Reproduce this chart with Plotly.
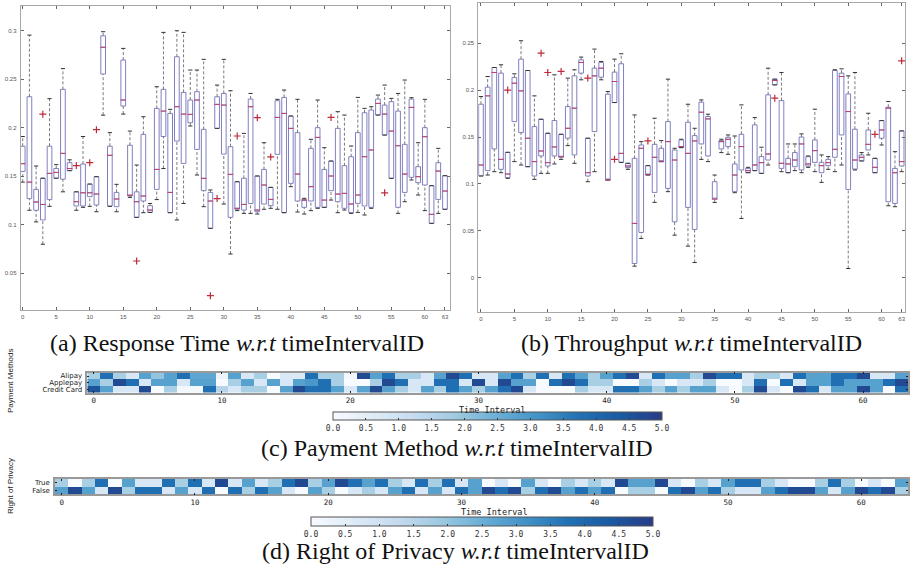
import plotly.graph_objects as go

intervals = list(range(64))
box_xticks = [0, 5, 10, 15, 20, 25, 30, 35, 40, 45, 50, 55, 60, 63]
heat_xticks = [0, 10, 20, 30, 40, 50, 60]

# ---------------- (a) Response time per interval (box statistics) ----------------
rt_lo = [0.144, 0.115, 0.103, 0.080, 0.119, 0.148, 0.134, 0.1558, 0.115, 0.118,
         0.119, 0.1135, 0.213, 0.119, 0.1135, 0.2141, 0.1283, 0.1077, 0.1125, 0.1128,
         0.126, 0.158, 0.1125, 0.105, 0.122, 0.2018, 0.1513, 0.1187, 0.0964, 0.1994,
         0.1214, 0.0699, 0.1146, 0.1118, 0.1118, 0.1111, 0.116, 0.117, 0.116, 0.1125,
         0.1393, 0.1132, 0.1111, 0.1146, 0.117, 0.118, 0.1255, 0.1125, 0.1152, 0.1118,
         0.1128, 0.1101, 0.117, 0.2131, 0.1925, 0.1479, 0.1118, 0.1238, 0.1462, 0.1307,
         0.1146, 0.1015, 0.1118, 0.116]
rt_q1 = [0.155, 0.127, 0.115, 0.105, 0.126, 0.148, 0.147, 0.1558, 0.1194, 0.1194,
         0.129, 0.1204, 0.2554, 0.1194, 0.1187, 0.2224, 0.1297, 0.1077, 0.1245, 0.1128,
         0.1365, 0.191, 0.1125, 0.1863, 0.1633, 0.2052, 0.1777, 0.1352, 0.0964, 0.1994,
         0.1729, 0.1077, 0.116, 0.1152, 0.122, 0.1135, 0.1214, 0.1197, 0.1726, 0.1125,
         0.1427, 0.1245, 0.118, 0.1245, 0.118, 0.118, 0.1352, 0.1238, 0.117, 0.1125,
         0.1221, 0.1194, 0.118, 0.2131, 0.1925, 0.1479, 0.118, 0.1334, 0.1489, 0.1434,
         0.141, 0.1015, 0.1262, 0.116]
rt_med = [0.163, 0.144, 0.1235, 0.121, 0.153, 0.154, 0.1736, 0.158, 0.1238, 0.133,
          0.133, 0.1317, 0.283, 0.1716, 0.1266, 0.2286, 0.1304, 0.1238, 0.1297, 0.1152,
          0.1571, 0.2172, 0.1334, 0.2217, 0.2141, 0.2138, 0.2286, 0.1479, 0.1245, 0.2241,
          0.2234, 0.152, 0.117, 0.121, 0.2217, 0.1152, 0.141, 0.1262, 0.2107, 0.2148,
          0.1994, 0.1523, 0.1255, 0.1393, 0.1901, 0.1255, 0.1503, 0.1317, 0.1324, 0.1214,
          0.1307, 0.1702, 0.1771, 0.2251, 0.2141, 0.1966, 0.1815, 0.1523, 0.221, 0.1496,
          0.1908, 0.1108, 0.1554, 0.1348]
rt_q3 = [0.181, 0.232, 0.1365, 0.148, 0.181, 0.158, 0.2396, 0.164, 0.134, 0.1626,
         0.142, 0.1496, 0.2948, 0.181, 0.1334, 0.2698, 0.182, 0.134, 0.1932, 0.1197,
         0.22, 0.2396, 0.2148, 0.2732, 0.2365, 0.2286, 0.2372, 0.1984, 0.1334, 0.232,
         0.2354, 0.1805, 0.1444, 0.148, 0.2296, 0.1503, 0.1571, 0.1386, 0.2279, 0.2313,
         0.2121, 0.195, 0.126, 0.1788, 0.2001, 0.1571, 0.1657, 0.1994, 0.1609, 0.1702,
         0.195, 0.2155, 0.2183, 0.2296, 0.2234, 0.2269, 0.2172, 0.1829, 0.2296, 0.1599,
         0.2001, 0.1403, 0.164, 0.1506]
rt_hi = [0.191, 0.2955, 0.1606, 0.148, 0.230, 0.162, 0.261, 0.167, 0.134, 0.191,
         0.142, 0.1496, 0.299, 0.195, 0.1417, 0.2818, 0.1966, 0.1616, 0.2114, 0.122,
         0.2423, 0.2983, 0.219, 0.300, 0.2983, 0.2595, 0.2595, 0.2705, 0.1359, 0.244,
         0.2705, 0.2382, 0.1444, 0.1942, 0.2354, 0.1503, 0.1846, 0.1386, 0.2293, 0.2389,
         0.2121, 0.2293, 0.1273, 0.1881, 0.2286, 0.1795, 0.1657, 0.2166, 0.2131, 0.1812,
         0.2313, 0.22, 0.2217, 0.2337, 0.244, 0.2303, 0.2354, 0.2492, 0.231, 0.1846,
         0.2293, 0.1403, 0.1788, 0.1506]
rt_out_x = [3, 8, 10, 11, 17, 28, 29, 32, 35, 37, 46, 54]
rt_out_y = [0.214, 0.161, 0.164, 0.198, 0.0627, 0.027, 0.127, 0.1915, 0.2104, 0.170, 0.2107, 0.133]

# ---------------- (b) Throughput per interval (box statistics) ----------------
tp_lo = [0.1085, 0.1095, 0.1131, 0.112, 0.106, 0.1238, 0.1202, 0.1184, 0.1049, 0.1113,
         0.1113, 0.1213, 0.1262, 0.1408, 0.122, 0.2109, 0.1024, 0.1131, 0.2109, 0.1042,
         0.1867, 0.123, 0.1156, 0.0125, 0.042, 0.1095, 0.0804, 0.1238, 0.0918, 0.0455,
         0.1387, 0.0338, 0.0164, 0.1262, 0.1238, 0.0804, 0.1334, 0.1316, 0.0907, 0.0633,
         0.112, 0.1142, 0.1113, 0.1202, 0.2055, 0.1131, 0.112, 0.1142, 0.112, 0.1177,
         0.1131, 0.1017, 0.1156, 0.1131, 0.1202, 0.010, 0.1149, 0.1245, 0.1309, 0.112,
         0.1415, 0.0768, 0.0758, 0.1131]
tp_q1 = [0.1085, 0.1142, 0.1373, 0.1156, 0.1067, 0.1664, 0.1547, 0.1184, 0.1085, 0.1298,
         0.1191, 0.1298, 0.1284, 0.1487, 0.1309, 0.218, 0.1085, 0.1558, 0.2137, 0.1042,
         0.1867, 0.123, 0.1174, 0.0153, 0.0484, 0.1095, 0.091, 0.1238, 0.0953, 0.0597,
         0.1387, 0.075, 0.0516, 0.1426, 0.1298, 0.0839, 0.1373, 0.1398, 0.0918, 0.1149,
         0.112, 0.1142, 0.1113, 0.1255, 0.2055, 0.1166, 0.112, 0.1184, 0.1149, 0.1191,
         0.123, 0.112, 0.1195, 0.1284, 0.1522, 0.0942, 0.1159, 0.1245, 0.1362, 0.112,
         0.1487, 0.0811, 0.0793, 0.1191]
tp_med = [0.1202, 0.1938, 0.2187, 0.1262, 0.1106, 0.2073, 0.1991, 0.1487, 0.1238, 0.1351,
          0.1227, 0.1394, 0.1291, 0.1593, 0.1807, 0.2294, 0.112, 0.2151, 0.2233, 0.1042,
          0.2091, 0.1326, 0.1191, 0.058, 0.138, 0.1102, 0.1284, 0.1238, 0.1451, 0.1255,
          0.1398, 0.1326, 0.1458, 0.1764, 0.1693, 0.0839, 0.1451, 0.1476, 0.1095, 0.1398,
          0.1142, 0.1202, 0.1227, 0.1319, 0.2102, 0.122, 0.1213, 0.1255, 0.1426, 0.1213,
          0.1355, 0.1195, 0.1227, 0.1369, 0.2144, 0.1771, 0.1255, 0.1284, 0.1422, 0.1177,
          0.1575, 0.1807, 0.112, 0.1238]
tp_q3 = [0.1849, 0.2031, 0.224, 0.218, 0.1337, 0.2134, 0.2329, 0.2208, 0.1611, 0.1689,
         0.154, 0.1675, 0.1529, 0.1824, 0.2151, 0.2322, 0.1487, 0.2233, 0.2294, 0.1956,
         0.2191, 0.228, 0.122, 0.1273, 0.1415, 0.1195, 0.1422, 0.138, 0.1664, 0.1362,
         0.1469, 0.1657, 0.1515, 0.1871, 0.1718, 0.1024, 0.1462, 0.1497, 0.1213, 0.1529,
         0.1166, 0.1629, 0.1291, 0.1949, 0.2116, 0.1888, 0.1273, 0.1334, 0.15, 0.1291,
         0.1469, 0.123, 0.1262, 0.2208, 0.218, 0.1959, 0.1583, 0.1309, 0.1575, 0.1273,
         0.1675, 0.1817, 0.1166, 0.1565]
tp_hi = [0.1931, 0.2144, 0.224, 0.2269, 0.1337, 0.2173, 0.2525, 0.2208, 0.1938, 0.1689,
         0.154, 0.2162, 0.1529, 0.2127, 0.2216, 0.2351, 0.1487, 0.2436, 0.2304, 0.1984,
         0.2329, 0.2386, 0.122, 0.1735, 0.1451, 0.1195, 0.17, 0.1462, 0.2116, 0.138,
         0.1476, 0.1849, 0.1593, 0.1895, 0.1743, 0.1095, 0.1476, 0.1522, 0.1511, 0.1842,
         0.1177, 0.1707, 0.1391, 0.2233, 0.2116, 0.2187, 0.1426, 0.1426, 0.1533, 0.1298,
         0.1796, 0.1309, 0.1291, 0.2216, 0.2226, 0.2151, 0.2187, 0.1334, 0.1753, 0.1273,
         0.1675, 0.1878, 0.1344, 0.1565]
tp_out_x = [4, 9, 10, 12, 16, 20, 25, 44, 59, 63]
tp_out_y = [0.200, 0.2393, 0.2187, 0.2198, 0.2127, 0.1262, 0.1458, 0.1913, 0.1529, 0.2311]

# ---------------- (c) Payment method heat map ----------------
pay_rows = ["Alipay", "Applepay", "Credit Card"]
pay_alipay = [1.7, 3.8, 1.7, 0.8, 2.8, 2.0, 2.8, 3.8, 2.7, 2.7, 0.3, 2.8, 0.8, 1.7, 0.0, 0.7,
              0.7, 3.8, 1.7, 1.7, 0.1, 4.7, 2.8, 3.8, 1.7, 1.7, 0.8, 2.8, 4.7, 3.8, 0.8, 0.8,
              2.8, 3.8, 1.7, 3.8, 0.8, 3.8, 2.8, 1.7, 2.8, 3.8, 4.7, 0.8, 3.8, 2.8, 2.8, 1.7,
              4.7, 3.8, 3.8, 0.8, 1.7, 1.7, 0.8, 3.8, 2.8, 2.8, 3.8, 3.8, 4.7, 0.8, 0.8, 2.8]
pay_applepay = [2.8, 1.7, 4.7, 3.8, 0.8, 2.8, 2.8, 0.8, 2.8, 2.8, 0.0, 1.7, 2.8, 0.8, 2.8, 0.8,
                2.8, 3.0, 3.8, 1.7, 0.0, 0.0, 1.7, 4.7, 3.8, 0.8, 0.8, 3.8, 3.8, 0.8, 4.7, 0.8,
                4.7, 2.8, 2.8, 0.0, 3.8, 4.7, 3.8, 1.7, 1.7, 0.0, 0.0, 1.7, 0.8, 0.0, 0.8, 0.8,
                1.7, 0.0, 0.0, 0.8, 3.8, 0.0, 3.8, 0.8, 2.8, 2.8, 3.8, 2.8, 2.8, 2.8, 3.8, 4.7]
pay_credit = [4.5, 2.8, 0.8, 0.8, 4.7, 0.0, 1.7, 0.1, 0.1, 3.8, 1.5, 0.8, 1.7, 1.7, 0.0, 2.8,
              4.7, 3.8, 3.8, 2.8, 0.8, 2.8, 4.7, 2.8, 1.7, 0.8, 2.8, 1.7, 3.8, 2.8, 1.7, 2.8,
              3.8, 4.7, 0.8, 0.0, 0.0, 0.0, 1.7, 0.8, 0.8, 3.8, 3.8, 2.8, 1.7, 2.8, 1.7, 2.8,
              2.8, 0.8, 0.0, 1.7, 4.7, 0.8, 0.0, 4.7, 3.8, 0.8, 2.8, 2.8, 4.7, 2.8, 0.0, 3.8]

# ---------------- (d) Right of privacy heat map ----------------
priv_rows = ["True", "False"]
priv_true = [1.7, 0.0, 1.7, 3.8, 0.0, 2.8, 0.8, 0.8, 3.8, 1.7, 3.8, 0.8, 4.7, 0.8, 2.8, 0.8,
             1.7, 3.8, 4.7, 1.7, 2.8, 4.7, 3.8, 2.8, 3.8, 1.7, 0.8, 3.8, 1.7, 3.8, 0.8, 2.8,
             0.0, 0.8, 0.0, 2.8, 0.8, 0.0, 1.7, 0.8, 1.7, 0.8, 4.7, 2.8, 2.8, 4.7, 0.8, 0.0,
             1.7, 0.8, 2.8, 3.8, 3.8, 1.7, 0.8, 0.0, 0.0, 1.7, 3.8, 1.7, 0.0, 0.8, 0.0, 2.8]
priv_false = [2.8, 4.7, 2.8, 0.8, 4.7, 1.7, 3.8, 3.8, 0.8, 2.8, 0.8, 3.8, 0.0, 3.8, 1.7, 3.8,
              2.8, 0.8, 0.0, 2.8, 1.7, 0.0, 0.8, 1.7, 0.8, 2.8, 3.8, 0.8, 2.8, 0.8, 3.8, 2.8,
              4.7, 3.8, 4.7, 1.7, 3.8, 4.7, 2.8, 3.8, 2.8, 3.8, 0.0, 1.7, 1.7, 0.0, 3.8, 4.7,
              2.8, 3.8, 1.7, 0.8, 0.8, 2.8, 3.8, 4.7, 4.7, 2.8, 0.8, 2.8, 4.7, 3.8, 4.7, 1.7]

cbar_ticks = [0.0, 0.5, 1.0, 1.5, 2.0, 2.5, 3.0, 3.5, 4.0, 4.5, 5.0]

# ---------------- styling ----------------
W, H = 910, 568
BOX_COLOR = "#8080c0"
MED_COLOR = "#c0406a"
WHISK_COLOR = "#7a7a7a"
OUT_COLOR = "#c02a3a"
blues = [[0.0, "#f7fbff"], [0.125, "#deebf7"], [0.25, "#c6dbef"], [0.375, "#9ecae1"],
         [0.5, "#6baed6"], [0.625, "#4292c6"], [0.75, "#2171b5"], [0.875, "#1b5aa2"],
         [1.0, "#283c86"]]

fig = go.Figure()


def add_boxes(xa, ya, lo, q1, med, q3, hi, ox, oy):
    fig.add_trace(go.Box(
        x=intervals, q1=q1, median=med, q3=q3, lowerfence=q1, upperfence=q3,
        width=0.7, fillcolor="rgba(255,255,255,0)", line=dict(color=BOX_COLOR, width=1),
        whiskerwidth=0, xaxis=xa, yaxis=ya, showlegend=False, hoverinfo="skip"))
    wx, wy = [], []
    for i, a, b, c, d in zip(intervals, lo, q1, q3, hi):
        wx += [i, i, None, i, i, None]
        wy += [a, b, None, c, d, None]
    fig.add_trace(go.Scatter(x=wx, y=wy, mode="lines", xaxis=xa, yaxis=ya,
                             line=dict(color=WHISK_COLOR, width=1, dash="3px,2px"),
                             showlegend=False, hoverinfo="skip"))
    fig.add_trace(go.Scatter(x=intervals + intervals, y=lo + hi, mode="markers",
                             xaxis=xa, yaxis=ya,
                             marker=dict(symbol="line-ew", size=3,
                                         line=dict(color="#333333", width=1)),
                             showlegend=False, hoverinfo="skip"))
    fig.add_trace(go.Scatter(x=intervals, y=med, mode="markers", xaxis=xa, yaxis=ya,
                             marker=dict(symbol="line-ew", size=4,
                                         line=dict(color=MED_COLOR, width=1)),
                             showlegend=False, hoverinfo="skip"))
    fig.add_trace(go.Scatter(x=ox, y=oy, mode="markers", xaxis=xa, yaxis=ya,
                             marker=dict(symbol="cross-thin", size=5,
                                         line=dict(color=OUT_COLOR, width=1.2)),
                             showlegend=False, hoverinfo="skip"))


add_boxes("x", "y", rt_lo, rt_q1, rt_med, rt_q3, rt_hi, rt_out_x, rt_out_y)
add_boxes("x2", "y2", tp_lo, tp_q1, tp_med, tp_q3, tp_hi, tp_out_x, tp_out_y)

cb_common = dict(orientation="h", xanchor="center", yanchor="top", lenmode="fraction",
                 thicknessmode="pixels", outlinecolor="#555", outlinewidth=1,
                 tickvals=cbar_ticks, tickformat=".1f", ticks="inside", ticklen=2,
                 tickcolor="#333",
                 tickfont=dict(family="DejaVu Sans Mono", size=8, color="#333"),
                 xpad=0, ypad=0)
fig.add_trace(go.Heatmap(
    z=[pay_alipay, pay_applepay, pay_credit], x=intervals, y=pay_rows,
    xaxis="x3", yaxis="y3", colorscale=blues, zmin=0, zmax=5, hoverinfo="skip",
    colorbar=dict(x=497.5 / W, y=1 - 412.5 / H, len=329 / W, thickness=8, **cb_common)))
fig.add_trace(go.Heatmap(
    z=[priv_true, priv_false], x=intervals, y=priv_rows,
    xaxis="x4", yaxis="y4", colorscale=blues, zmin=0, zmax=5, hoverinfo="skip",
    colorbar=dict(x=482 / W, y=1 - 516.5 / H, len=342 / W, thickness=9, **cb_common)))

tickf = dict(family="Liberation Sans", size=6, color="#555")
box_x = dict(showgrid=False, zeroline=False, showline=True, mirror="ticks",
             linecolor="#a8a8a8", linewidth=1, ticks="inside", ticklen=3,
             tickcolor="#666", tickvals=box_xticks, tickfont=tickf, ticklabelstandoff=1)
box_y = dict(showgrid=False, zeroline=False, showline=True, mirror="ticks",
             linecolor="#a8a8a8", linewidth=1, ticks="inside", ticklen=3,
             tickcolor="#666", dtick=0.05, tick0=0, tickfont=tickf, ticklabelstandoff=2)

heat_x = dict(showgrid=False, zeroline=False, showline=True, mirror="ticks",
              linecolor="#999", linewidth=1.5, ticks="inside", ticklen=2,
              tickcolor="#222", tickvals=heat_xticks, range=[-0.5, 63.5],
              tickfont=dict(family="DejaVu Sans Mono", size=7.5, color="#222"),
              ticklabelstandoff=0)
heat_y = dict(showgrid=False, zeroline=False, showline=True, mirror="ticks",
              linecolor="#999", linewidth=1.5, ticks="inside", ticklen=2,
              tickcolor="#222", autorange="reversed", tickmode="array",
              tickfont=dict(family="DejaVu Sans", size=7, color="#222"),
              ticklabelstandoff=2)

fig.update_layout(
    width=W, height=H, margin=dict(l=0, r=0, t=0, b=0, autoexpand=False),
    paper_bgcolor="white", plot_bgcolor="white", showlegend=False,
    xaxis=dict(domain=[20.7 / W, 450 / W], range=[-0.3, 63.75], anchor="y", **box_x),
    yaxis=dict(domain=[1 - 310 / H, 1 - 6 / H], range=[0.0122, 0.3255], anchor="x", **box_y),
    xaxis2=dict(domain=[478.3 / W, 905 / W], range=[-0.4, 63.5], anchor="y2", **box_x),
    yaxis2=dict(domain=[1 - 311.7 / H, 1 - 2.7 / H], range=[-0.036, 0.293], anchor="x2", **box_y),
    xaxis3=dict(domain=[87.3 / W, 908 / W], anchor="y3", **heat_x),
    yaxis3=dict(domain=[1 - 392.7 / H, 1 - 372.7 / H], anchor="x3",
                tickvals=pay_rows, ticktext=pay_rows, **heat_y),
    xaxis4=dict(domain=[55 / W, 908 / W], anchor="y4", **heat_x),
    yaxis4=dict(domain=[1 - 494.3 / H, 1 - 479 / H], anchor="x4",
                tickvals=priv_rows, ticktext=priv_rows, **heat_y),
)

cap_font = dict(family="Liberation Serif", size=24, color="#111")
lab_font = dict(family="DejaVu Sans Mono", size=8.5, color="#222")
side_font = dict(family="Liberation Sans", size=8, color="#222")
annots = [
    ("(a) Response Time <i>w.r.t</i> timeIntervalID", 236.5, 343, cap_font, 0),
    ("(b) Throughput <i>w.r.t</i> timeIntervalID", 691, 343, cap_font, 0),
    ("(c) Payment Method <i>w.r.t</i> timeIntervalID", 456, 448, cap_font, 0),
    ("(d) Right of Privacy <i>w.r.t</i> timeIntervalID", 455.5, 551, cap_font, 0),
    ("Time Interval", 493, 409.5, lab_font, 0),
    ("Time Interval", 495, 512, lab_font, 0),
    ("Payment Methods", 10, 381, side_font, -90),
    ("Right of Privacy", 10, 486, side_font, -90),
]
for text, x, y, f, ang in annots:
    fig.add_annotation(text=text, x=x / W, y=1 - y / H, xref="paper", yref="paper",
                       showarrow=False, font=f, textangle=ang,
                       xanchor="center", yanchor="middle")

fig.write_html("out.html", config={"displayModeBar": False},
               post_script="document.body.style.margin='0px';document.body.style.overflow='hidden';")
